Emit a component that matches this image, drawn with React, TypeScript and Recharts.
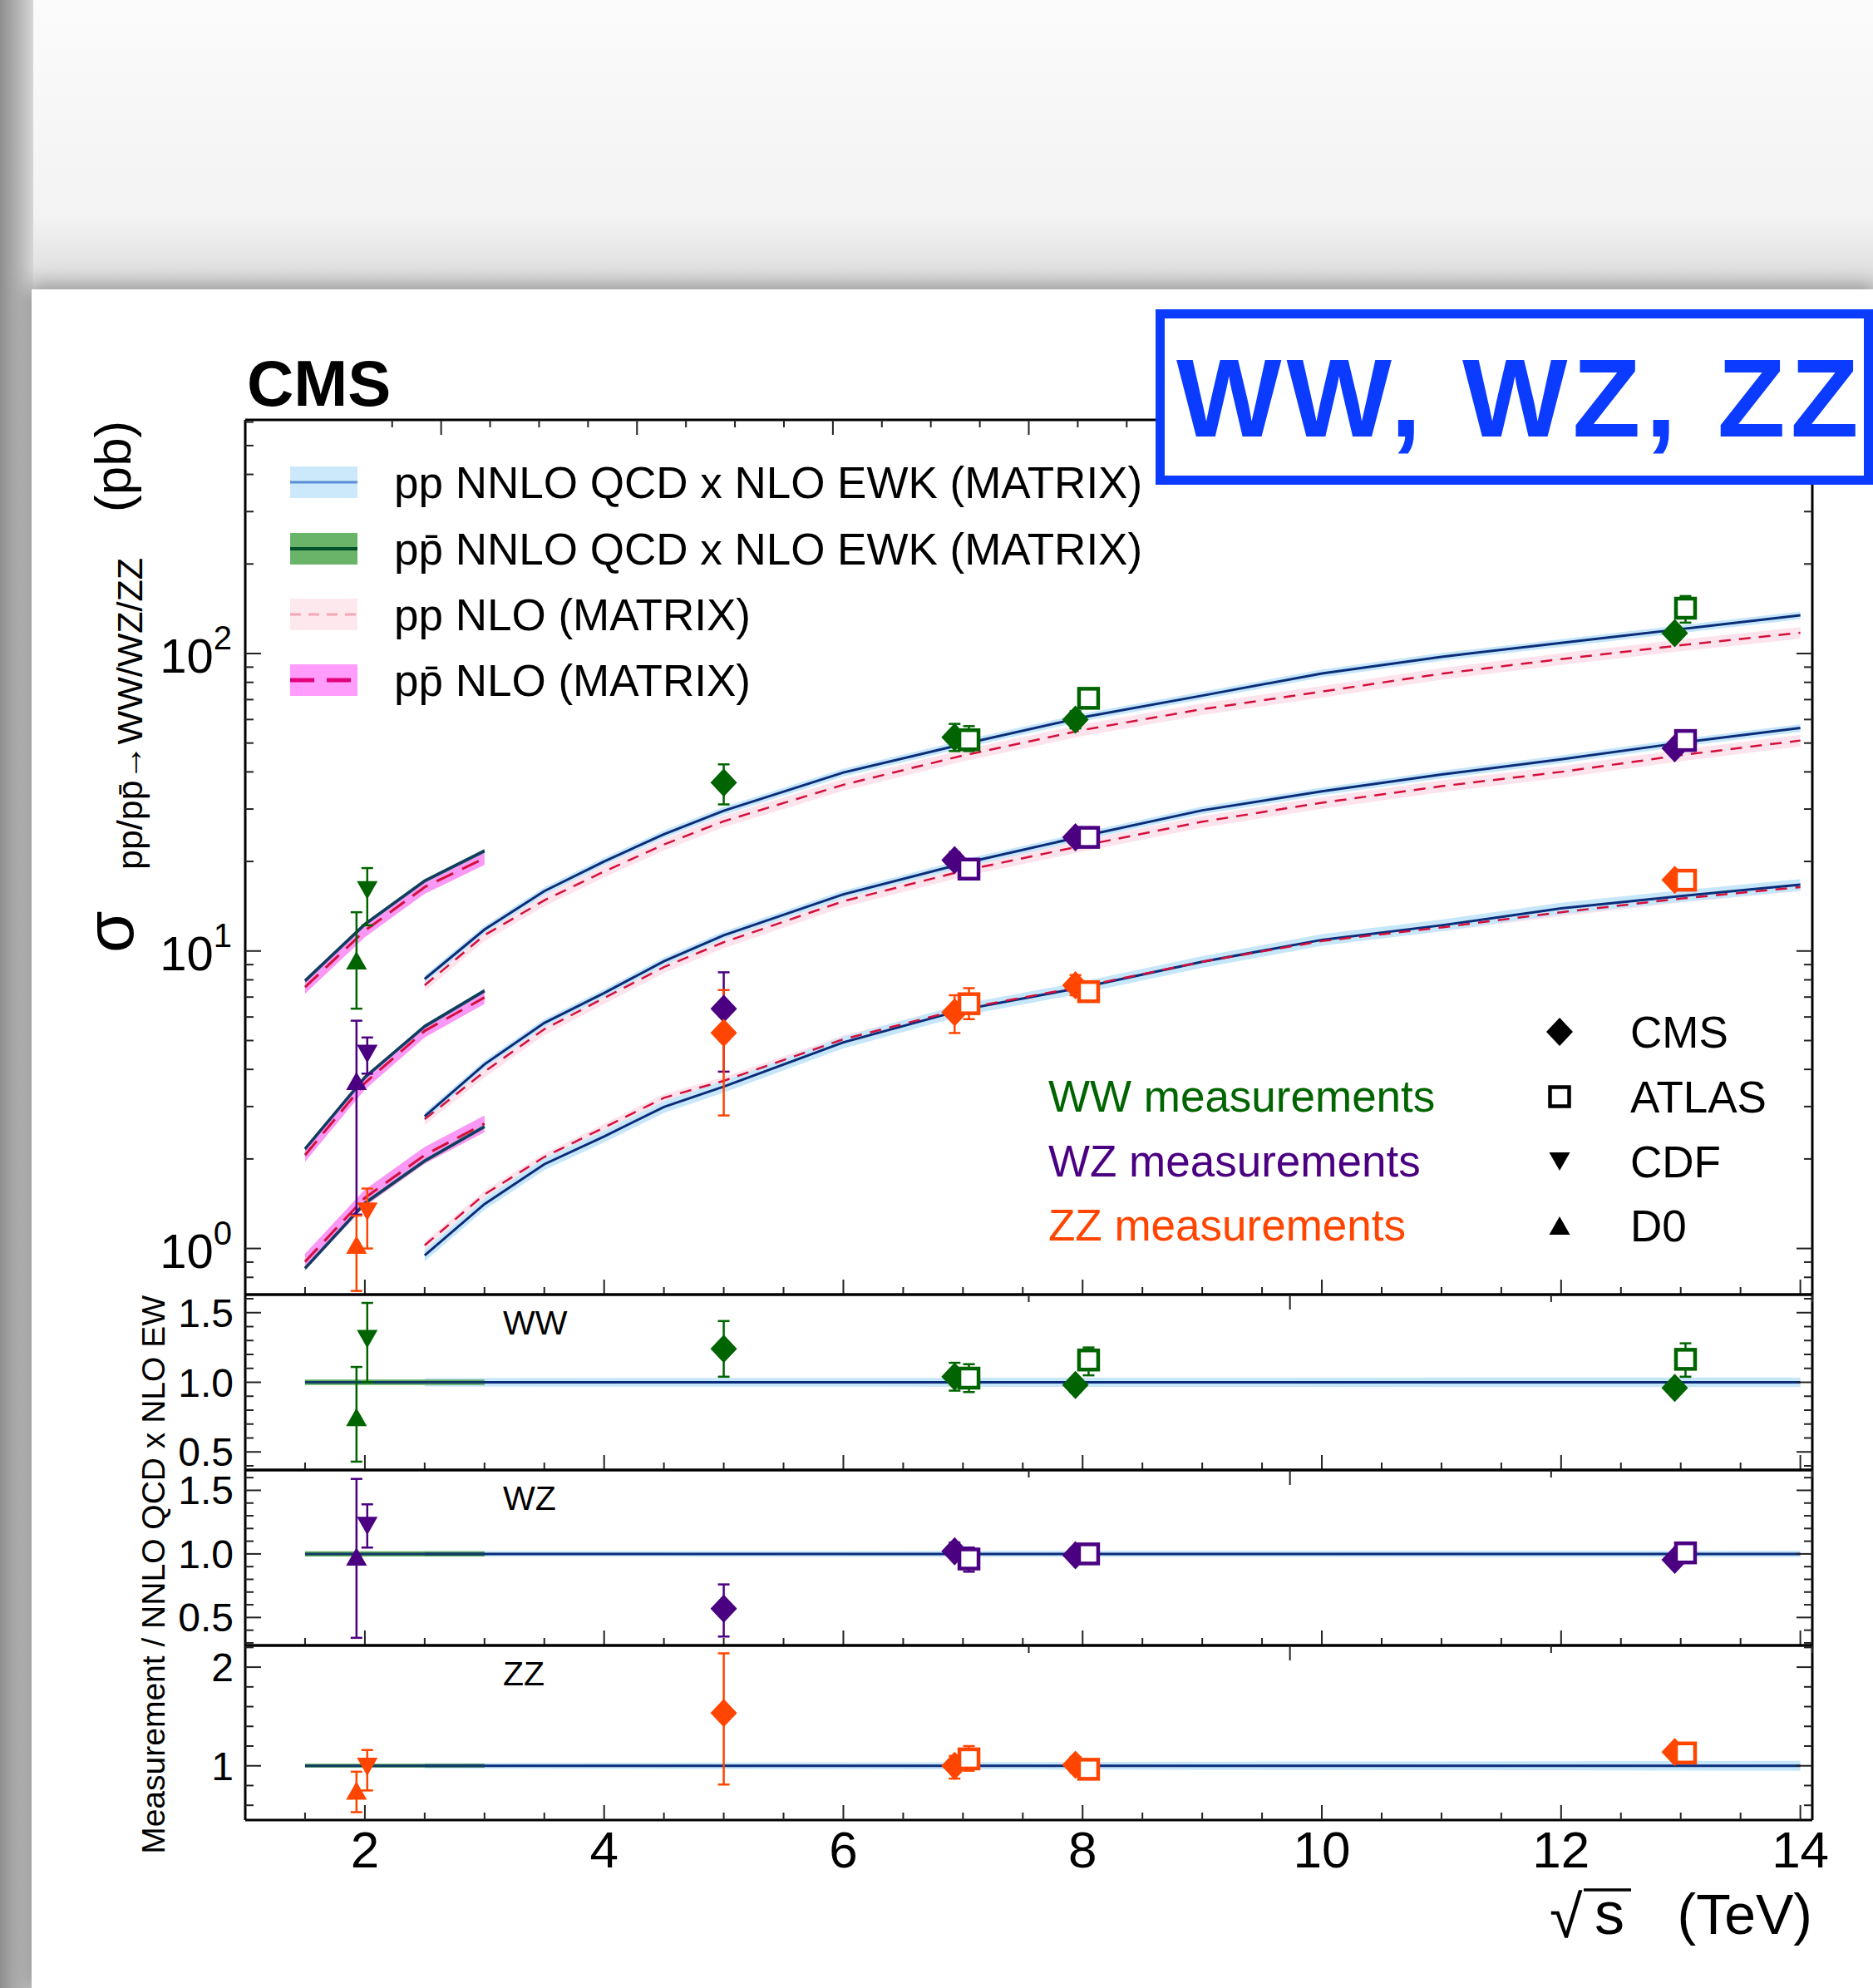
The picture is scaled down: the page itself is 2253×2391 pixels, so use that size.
import React from 'react';
import { ComposedChart, Line, Area, Scatter, XAxis, YAxis, ErrorBar } from 'recharts';

const W = 2253;
const H = 2391;
const FONT = '"Liberation Sans", Arial, Helvetica, sans-serif';

// frame of the plot, page pixels
const PLOT_LEFT = 295;
const PLOT_RIGHT = 2180;
const MAIN_TOP = 505;
const MAIN_BOTTOM = 1557;
const WW_BOTTOM = 1768;
const WZ_BOTTOM = 1979;
const ZZ_BOTTOM = 2189;

const WW_COLOR = '#006400';
const WZ_COLOR = '#4b0082';
const ZZ_COLOR = '#ff4500';
const NNLO_LINE = '#0b2c78';
const PPBAR_LINE = '#123a66';
const NLO_LINE = '#d40f3c';
const NNLO_BAND = '#c6e6fa';
const NLO_BAND = '#fde3eb';
const PPBAR_NNLO_BAND = '#5fae5f';
const PPBAR_NLO_BAND = '#fa98f6';
const BOX_BLUE = '#0b3bff';
const TICK_COLOR = '#222';

// ---- axes ----
const xDomain = [1, 14.1];
const xTicks = [1.5, 2, 2.5, 3, 3.5, 4, 4.5, 5, 5.5, 6, 6.5, 7, 7.5, 8, 8.5, 9, 9.5, 10, 10.5, 11, 11.5, 12, 12.5, 13, 13.5, 14];
const xTickLabels = [2, 4, 6, 8, 10, 12, 14];

const mainYDomain = [0.7, 610];
const mainYTicks = [0.7, 0.8, 0.9, 1, 2, 3, 4, 5, 6, 7, 8, 9, 10, 20, 30, 40, 50, 60, 70, 80, 90, 100, 200, 300, 400, 500, 600];
const mainYLabels = [1, 10, 100];
const mainYExponents = ['0', '1', '2'];

const wwRatioDomain = [0.37, 1.63];
const wwRatioTicks = [0.4, 0.5, 0.6, 0.7, 0.8, 0.9, 1, 1.1, 1.2, 1.3, 1.4, 1.5, 1.6];
const wzRatioDomain = [0.28, 1.66];
const wzRatioTicks = [0.3, 0.4, 0.5, 0.6, 0.7, 0.8, 0.9, 1, 1.1, 1.2, 1.3, 1.4, 1.5, 1.6];
const halfRatioLabels = [0.5, 1, 1.5];
const halfRatioText = ['0.5', '1.0', '1.5'];
const zzRatioDomain = [0.45, 2.22];
const zzRatioTicks = [0.6, 0.8, 1, 1.2, 1.4, 1.6, 1.8, 2, 2.2];
const zzRatioLabels = [1, 2];
const zzRatioText = ['1', '2'];

// ---- theory (MATRIX), pb ----
const ppRoots = [2.5, 3, 3.5, 4, 4.5, 5, 6, 7, 8, 9, 10, 11, 12, 13, 14];
const ppbarRoots = [1.5, 2, 2.5, 3];

const wwPpNnlo = [8.05, 11.8, 15.9, 20.0, 24.7, 29.6, 39.8, 49.6, 61.0, 72.2, 85.7, 97.5, 108.5, 120.8, 134.4];
const wzPpNnlo = [2.78, 4.16, 5.73, 7.22, 9.24, 11.3, 15.5, 19.7, 24.3, 29.7, 34.4, 39.2, 44.1, 50.1, 56.2];
const zzPpNnlo = [0.948, 1.41, 1.92, 2.38, 2.99, 3.5, 4.93, 6.35, 7.55, 9.2, 10.9, 12.2, 13.9, 15.3, 16.7];
const wwPpNlo = [7.67, 11.3, 14.8, 18.5, 22.8, 27.3, 36.2, 45.4, 55.3, 65.0, 74.5, 85.5, 95.8, 106.6, 117.4];
const wzPpNlo = [2.72, 3.93, 5.46, 6.95, 8.83, 10.7, 14.7, 18.6, 22.6, 27.2, 31.5, 35.8, 40.0, 45.5, 51.0];
const zzPpNlo = [1.025, 1.52, 2.03, 2.55, 3.21, 3.66, 5.05, 6.4, 7.6, 9.2, 10.8, 12.0, 13.5, 15.0, 16.4];

const wwPbNnlo = [7.94, 12.3, 17.2, 21.7];
const wzPbNnlo = [2.16, 3.76, 5.58, 7.35];
const zzPbNnlo = [0.858, 1.42, 1.97, 2.57];
const wwPbNlo = [7.56, 11.7, 16.4, 20.5];
const wzPbNlo = [2.06, 3.6, 5.39, 6.98];
const zzPbNlo = [0.903, 1.48, 2.06, 2.63];

// relative band half-widths: WW, WZ, ZZ
const ppNnloUnc = [0.03, 0.03, 0.045];
const ppNloUnc = [0.045, 0.045, 0.03];
const pbNnloUnc = [0.015, 0.015, 0.015];
const pbNloUnc = [0.05, 0.05, 0.065];

// ---- measurements: [value, low, high] ----
const cmsRoots = [5.0, 6.93, 7.94, 12.95];
const atlasRoots = [7.05, 8.05, 13.04];
const cdfRoots = [2.02];
const d0Roots = [1.93];

const wwCms = [[36.8, 31.1, 42.4], [52.3, 47, 58], [59.9, 56, 64], [117, 111, 123]];
const wwAtlas = [[51.3, 47, 57], [70.7, 66, 75.5], [142, 127, 156]];
const wwCdf = [[16.0, 12.2, 19.0]];
const wwD0 = [[9.3, 6.4, 13.5]];
const wzCms = [[6.4, 3.93, 8.48], [20.2, 19, 21.5], [24.1, 23, 25.3], [48.0, 46, 50]];
const wzAtlas = [[18.85, 17.6, 20.2], [24.1, 23.2, 25], [51.0, 49, 53]];
const wzCdf = [[4.51, 3.87, 5.12]];
const wzD0 = [[3.66, 1.3, 5.83]];
const zzCms = [[5.31, 2.8, 7.39], [6.22, 5.3, 7.1], [7.67, 7.1, 8.3], [17.35, 16.5, 18.2]];
const zzAtlas = [[6.65, 5.9, 7.5], [7.3, 7.0, 7.7], [17.3, 16.6, 18.0]];
const zzCdf = [[1.33, 1.0, 1.59]];
const zzD0 = [[1.03, 0.72, 1.29]];

// measurement / NNLO QCD x NLO EW
const wwCmsRatio = [[1.24, 1.04, 1.44], [1.04, 0.94, 1.14], [0.98, 0.93, 1.03], [0.96, 0.92, 1.0]];
const wwAtlasRatio = [[1.03, 0.93, 1.13], [1.16, 1.05, 1.25], [1.165, 1.04, 1.28]];
const wwCdfRatio = [[1.31, 1.0, 1.57]];
const wwD0Ratio = [[0.75, 0.43, 1.11]];
const wzCmsRatio = [[0.57, 0.35, 0.76], [1.02, 0.97, 1.09], [0.99, 0.95, 1.04], [0.954, 0.92, 0.99]];
const wzAtlasRatio = [[0.96, 0.86, 1.05], [1.0, 0.96, 1.04], [1.008, 0.97, 1.05]];
const wzCdfRatio = [[1.22, 1.05, 1.39]];
const wzD0Ratio = [[0.98, 0.34, 1.59]];
const zzCmsRatio = [[1.535, 0.81, 2.14], [1.0, 0.87, 1.1], [1.01, 0.93, 1.09], [1.14, 1.08, 1.2]];
const zzAtlasRatio = [[1.07, 0.95, 1.2], [0.965, 0.91, 1.02], [1.13, 1.07, 1.19]];
const zzCdfRatio = [[0.99, 0.75, 1.16]];
const zzD0Ratio = [[0.75, 0.53, 0.94]];

// theory band in the ratio panels
const ratioPpRoots = [2.5, 14];
const ratioPbRoots = [1.5, 3];
const ratioPpCentral = [1, 1];
const ratioPbCentral = [1, 1];
const wwRatioPpUnc = [0.03, 0.035];
const wzRatioPpUnc = [0.022, 0.025];
const zzRatioPpUnc = [0.028, 0.05];
const ratioPbUnc = [0.02, 0.02];

// legend text
const theoryLegend = ['pp NNLO QCD x NLO EWK (MATRIX)', 'pp\u0304 NNLO QCD x NLO EWK (MATRIX)', 'pp NLO (MATRIX)', 'pp\u0304 NLO (MATRIX)'];
const processLegend = ['WW measurements', 'WZ measurements', 'ZZ measurements'];
const experimentLegend = ['CMS', 'ATLAS', 'CDF', 'D0'];

// ---------------------------------------------------------------

type Row = { x: number; [k: string]: any };

function emptyRows(a: number[], b: number[]): Row[] {
  return Array.from(new Set([...a, ...b]))
    .sort((p, q) => p - q)
    .map((x) => ({ x }));
}

function put(rows: Row[], roots: number[], vals: number[], key: string, unc: number) {
  roots.forEach((x, i) => {
    const r = rows.find((q) => q.x === x)!;
    r[key] = vals[i];
    r[key + 'Band'] = [vals[i] * (1 - unc), vals[i] * (1 + unc)];
  });
}

const processes = [
  { id: 'ww', ppNnlo: wwPpNnlo, ppNlo: wwPpNlo, pbNnlo: wwPbNnlo, pbNlo: wwPbNlo },
  { id: 'wz', ppNnlo: wzPpNnlo, ppNlo: wzPpNlo, pbNnlo: wzPbNnlo, pbNlo: wzPbNlo },
  { id: 'zz', ppNnlo: zzPpNnlo, ppNlo: zzPpNlo, pbNnlo: zzPbNnlo, pbNlo: zzPbNlo },
];

const theoryRows: Row[] = (() => {
  const rows = emptyRows(ppbarRoots, ppRoots);
  processes.forEach((p, i) => {
    put(rows, ppRoots, p.ppNnlo, p.id + 'PpNnlo', ppNnloUnc[i]);
    put(rows, ppRoots, p.ppNlo, p.id + 'PpNlo', ppNloUnc[i]);
    put(rows, ppbarRoots, p.pbNnlo, p.id + 'PbNnlo', pbNnloUnc[i]);
    put(rows, ppbarRoots, p.pbNlo, p.id + 'PbNlo', pbNloUnc[i]);
  });
  return rows;
})();

function ratioRows(ppUnc: number[]): Row[] {
  const rows = emptyRows(ratioPbRoots, ratioPpRoots);
  ratioPpRoots.forEach((x, i) => {
    const r = rows.find((q) => q.x === x)!;
    r.pp = ratioPpCentral[i];
    r.ppBand = [ratioPpCentral[i] - ppUnc[i], ratioPpCentral[i] + ppUnc[i]];
  });
  ratioPbRoots.forEach((x, i) => {
    const r = rows.find((q) => q.x === x)!;
    r.pb = ratioPbCentral[i];
    r.pbBand = [ratioPbCentral[i] - ratioPbUnc[i], ratioPbCentral[i] + ratioPbUnc[i]];
  });
  return rows;
}

const toPoints = (xs: number[], vals: number[][]) =>
  xs.map((x, i) => ({ x, y: vals[i][0], err: [vals[i][0] - vals[i][1], vals[i][2] - vals[i][0]] }));

// ---- marker shapes ----
const diamond = (c: string) => (p: any) => (
  <polygon points={`${p.cx},${p.cy - 17} ${p.cx + 16},${p.cy} ${p.cx},${p.cy + 17} ${p.cx - 16},${p.cy}`} fill={c} />
);
const openSquare = (c: string) => (p: any) => (
  <rect x={p.cx - 11.5} y={p.cy - 11.5} width={23} height={23} fill="#fff" stroke={c} strokeWidth={4.5} />
);
const downTri = (c: string) => (p: any) => (
  <polygon points={`${p.cx - 12.5},${p.cy - 11} ${p.cx + 12.5},${p.cy - 11} ${p.cx},${p.cy + 11}`} fill={c} />
);
const upTri = (c: string) => (p: any) => (
  <polygon points={`${p.cx - 12.5},${p.cy + 11} ${p.cx + 12.5},${p.cy + 11} ${p.cx},${p.cy - 11}`} fill={c} />
);

function scatters(color: string, key: string, cms: number[][], atlas: number[][], cdf: number[][], d0: number[][]) {
  const sets = [
    { roots: cmsRoots, vals: cms, shape: diamond },
    { roots: atlasRoots, vals: atlas, shape: openSquare },
    { roots: cdfRoots, vals: cdf, shape: downTri },
    { roots: d0Roots, vals: d0, shape: upTri },
  ];
  return sets.map((s, k) => (
    <Scatter key={key + k} data={toPoints(s.roots, s.vals)} dataKey="y" shape={s.shape(color)} isAnimationActive={false}>
      <ErrorBar dataKey="err" direction="y" width={7} stroke={color} strokeWidth={2.5} />
    </Scatter>
  ));
}

// ---- ticks (ROOT style, drawn inward) ----
const xTick = (side: 'top' | 'bottom', withLabels: boolean) => (p: any) => {
  const v = p.payload.value;
  const i = xTickLabels.indexOf(v);
  const len = i >= 0 ? 18 : 9;
  const dir = side === 'bottom' ? -1 : 1;
  return (
    <g>
      <line x1={p.x} y1={p.y} x2={p.x} y2={p.y + dir * len} stroke={TICK_COLOR} strokeWidth={2} />
      {withLabels && i >= 0 ? (
        <text x={p.x} y={p.y + 57} textAnchor="middle" fontFamily={FONT} fontSize={62} fill="#000">
          {xTickLabels[i]}
        </text>
      ) : null}
    </g>
  );
};

const mainLeftTick = (p: any) => {
  const v = p.payload.value;
  const i = mainYLabels.indexOf(v);
  return (
    <g>
      <line x1={p.x} y1={p.y} x2={p.x + (i >= 0 ? 19 : 10)} y2={p.y} stroke={TICK_COLOR} strokeWidth={2} />
      {i >= 0 ? (
        <text x={p.x - 16} y={p.y + 23} textAnchor="end" fontFamily={FONT} fontSize={58} fill="#000">
          10
          <tspan dy={-28} fontSize={40}>
            {mainYExponents[i]}
          </tspan>
        </text>
      ) : null}
    </g>
  );
};

const ratioLeftTick = (majors: number[], text: string[]) => (p: any) => {
  const i = majors.indexOf(p.payload.value);
  return (
    <g>
      <line x1={p.x} y1={p.y} x2={p.x + (i >= 0 ? 19 : 10)} y2={p.y} stroke={TICK_COLOR} strokeWidth={2} />
      {i >= 0 ? (
        <text x={p.x - 14} y={p.y + 17} textAnchor="end" fontFamily={FONT} fontSize={48} fill="#000">
          {text[i]}
        </text>
      ) : null}
    </g>
  );
};

const rightTick = (majors: number[]) => (p: any) => {
  const major = majors.includes(p.payload.value);
  return <line x1={p.x} y1={p.y} x2={p.x - (major ? 19 : 10)} y2={p.y} stroke={TICK_COLOR} strokeWidth={2} />;
};

const AXIS_LINE = { stroke: '#000', strokeWidth: 3 };

// axes are 1px thick so that recharts still draws them
function frameAxes(opts: {
  yDomain: number[];
  yTicks: number[];
  log?: boolean;
  leftTick: (p: any) => React.ReactNode;
  majors: number[];
  xLabels: boolean;
}) {
  const common = { tickSize: 0, tickMargin: 0, tickLine: false, axisLine: AXIS_LINE, interval: 0 as const, allowDataOverflow: true };
  return [
    <XAxis key="xb" dataKey="x" type="number" domain={xDomain} ticks={xTicks} height={1} tick={xTick('bottom', opts.xLabels)} {...common} />,
    <XAxis key="xt" xAxisId="top" orientation="top" type="number" domain={xDomain} ticks={xTicks} height={1} tick={xTick('top', false)} {...common} />,
    <YAxis
      key="yl"
      type="number"
      scale={opts.log ? 'log' : 'linear'}
      domain={opts.yDomain}
      ticks={opts.yTicks}
      width={PLOT_LEFT}
      tick={opts.leftTick}
      {...common}
    />,
    <YAxis
      key="yr"
      yAxisId="right"
      orientation="right"
      type="number"
      scale={opts.log ? 'log' : 'linear'}
      domain={opts.yDomain}
      ticks={opts.yTicks}
      width={1}
      tick={rightTick(opts.majors)}
      {...common}
    />,
  ];
}

const panelMargin = (top: number, bottom: number) => ({ top: top - 1, right: W - PLOT_RIGHT - 1, bottom: H - bottom - 1, left: 0 });

const abs: React.CSSProperties = { position: 'absolute', left: 0, top: 0 };

function MainPanel() {
  const band = (key: string, fill: string) =>
    processes.map((p) => (
      <Area
        key={p.id + key}
        dataKey={p.id + key}
        type="linear"
        stroke="none"
        fill={fill}
        fillOpacity={1}
        dot={false}
        activeDot={false}
        isAnimationActive={false}
      />
    ));
  const line = (key: string, stroke: string, width: number, dash?: string) =>
    processes.map((p) => (
      <Line
        key={p.id + key}
        dataKey={p.id + key}
        type="linear"
        stroke={stroke}
        strokeWidth={width}
        strokeDasharray={dash}
        dot={false}
        activeDot={false}
        isAnimationActive={false}
      />
    ));
  return (
    <div style={abs}>
      <ComposedChart width={W} height={H} data={theoryRows} margin={panelMargin(MAIN_TOP, MAIN_BOTTOM)}>
        {frameAxes({ yDomain: mainYDomain, yTicks: mainYTicks, log: true, leftTick: mainLeftTick, majors: mainYLabels, xLabels: false })}
        {band('PpNloBand', NLO_BAND)}
        {band('PpNnloBand', NNLO_BAND)}
        {band('PbNloBand', PPBAR_NLO_BAND)}
        {band('PbNnloBand', PPBAR_NNLO_BAND)}
        {line('PpNnlo', NNLO_LINE, 3)}
        {line('PbNnlo', PPBAR_LINE, 3.5)}
        {line('PpNlo', NLO_LINE, 2.5, '14 10')}
        {line('PbNlo', NLO_LINE, 3, '22 12')}
        {scatters(WW_COLOR, 'ww', wwCms, wwAtlas, wwCdf, wwD0)}
        {scatters(WZ_COLOR, 'wz', wzCms, wzAtlas, wzCdf, wzD0)}
        {scatters(ZZ_COLOR, 'zz', zzCms, zzAtlas, zzCdf, zzD0)}
      </ComposedChart>
    </div>
  );
}

function RatioPanel(props: {
  top: number;
  bottom: number;
  domain: number[];
  ticks: number[];
  majors: number[];
  text: string[];
  unc: number[];
  color: string;
  id: string;
  cms: number[][];
  atlas: number[][];
  cdf: number[][];
  d0: number[][];
  xLabels: boolean;
}) {
  return (
    <div style={abs}>
      <ComposedChart width={W} height={H} data={ratioRows(props.unc)} margin={panelMargin(props.top, props.bottom)}>
        {frameAxes({
          yDomain: props.domain,
          yTicks: props.ticks,
          leftTick: ratioLeftTick(props.majors, props.text),
          majors: props.majors,
          xLabels: props.xLabels,
        })}
        <Area dataKey="ppBand" type="linear" connectNulls stroke="none" fill={NNLO_BAND} fillOpacity={1} dot={false} activeDot={false} isAnimationActive={false} />
        <Area dataKey="pbBand" type="linear" connectNulls stroke="none" fill={PPBAR_NNLO_BAND} fillOpacity={1} dot={false} activeDot={false} isAnimationActive={false} />
        <Line dataKey="pp" type="linear" connectNulls stroke={NNLO_LINE} strokeWidth={3} dot={false} activeDot={false} isAnimationActive={false} />
        <Line dataKey="pb" type="linear" connectNulls stroke={PPBAR_LINE} strokeWidth={3} dot={false} activeDot={false} isAnimationActive={false} />
        {scatters(props.color, props.id, props.cms, props.atlas, props.cdf, props.d0)}
      </ComposedChart>
    </div>
  );
}

function Overlay() {
  const legendY = [580, 660, 739, 818];
  const swatches = [
    { fill: '#cbe9fb', stroke: '#5b8ed6', width: 3, dash: undefined },
    { fill: '#6ab46a', stroke: '#00502a', width: 4, dash: undefined },
    { fill: '#fde8ee', stroke: '#f4a6b4', width: 3, dash: '13 9' },
    { fill: '#ff9cfc', stroke: '#e2007a', width: 5, dash: '29 15' },
  ];
  const procY = [1337, 1415, 1492];
  const procColor = [WW_COLOR, WZ_COLOR, ZZ_COLOR];
  const expY = [1241, 1319, 1397, 1474];
  const expShape = [diamond('#000'), openSquare('#000'), downTri('#000'), upTri('#000')];
  return (
    <svg width={W} height={H} style={abs} fontFamily={FONT}>
      <text x={297} y={488} fontSize={78} fontWeight="bold" fill="#000">
        CMS
      </text>

      {theoryLegend.map((t, i) => (
        <g key={t}>
          <rect x={349} y={legendY[i] - 19} width={81} height={38} fill={swatches[i].fill} />
          <line
            x1={349}
            x2={430}
            y1={legendY[i]}
            y2={legendY[i]}
            stroke={swatches[i].stroke}
            strokeWidth={swatches[i].width}
            strokeDasharray={swatches[i].dash}
          />
          <text x={474} y={legendY[i] + 19} fontSize={53} fill="#000">
            {t}
          </text>
        </g>
      ))}

      {processLegend.map((t, i) => (
        <text key={t} x={1261} y={procY[i]} fontSize={53} fill={procColor[i]}>
          {t}
        </text>
      ))}
      {experimentLegend.map((t, i) => (
        <g key={t}>
          {expShape[i]({ cx: 1876, cy: expY[i] })}
          <text x={1961} y={expY[i] + 19} fontSize={53} fill="#000">
            {t}
          </text>
        </g>
      ))}

      <text x={605} y={1605} fontSize={41} fill="#000">WW</text>
      <text x={605} y={1816} fontSize={41} fill="#000">WZ</text>
      <text x={605} y={2027} fontSize={41} fill="#000">ZZ</text>

      {/* y titles: local x runs upward from y=1146, local y=0 is the baseline at x=160 */}
      <text transform="translate(160, 1146) rotate(-90)" fill="#000">
        <tspan x={0} y={0} fontSize={82}>
          σ
        </tspan>
        <tspan x={100} y={11} fontSize={43}>
          pp/pp&#772;→WW/WZ/ZZ
        </tspan>
        <tspan x={530} y={-3} fontSize={62}>
          (pb)
        </tspan>
      </text>
      <text transform="translate(198, 1558) rotate(-90)" textAnchor="end" fontSize={39} fill="#000">
        Measurement / NNLO QCD x NLO EW
      </text>

      {/* x title */}
      <text x={1864} y={2330} fontSize={72} fill="#000">
        √
      </text>
      <line x1={1905} x2={1962} y1={2273} y2={2273} stroke="#000" strokeWidth={3.5} />
      <text x={1918} y={2326} fontSize={72} fill="#000">
        s
      </text>
      <text x={2180} y={2326} textAnchor="end" fontSize={68} fill="#000">
        (TeV)
      </text>

      {/* tag box */}
      <rect x={1395.5} y={377.5} width={852} height={200} fill="#fff" stroke={BOX_BLUE} strokeWidth={11} />
      <text x={1415} y={525} fontSize={134} fontWeight="bold" fill={BOX_BLUE} letterSpacing={6}>
        WW, WZ, ZZ
      </text>
    </svg>
  );
}

export default function App() {
  return (
    <div style={{ position: 'absolute', left: 0, top: 0, width: W, height: H, overflow: 'hidden', background: '#f7f7f7', fontFamily: FONT }}>
      <div style={{ ...abs, width: W, height: 348, background: 'linear-gradient(to bottom, #fbfbfb 0%, #f3f3f3 75%, #dadada 100%)' }} />
      <div style={{ ...abs, width: 40, height: H, background: 'linear-gradient(to right, #8e8e8e 0%, #b8b8b8 60%, #d6d6d6 100%)' }} />
      <div
        style={{
          position: 'absolute',
          left: 38,
          top: 348,
          width: W - 38,
          height: H - 348,
          background: '#fff',
          boxShadow: '0 0 24px 4px rgba(0,0,0,0.35)',
        }}
      />
      <MainPanel />
      <RatioPanel
        top={MAIN_BOTTOM}
        bottom={WW_BOTTOM}
        domain={wwRatioDomain}
        ticks={wwRatioTicks}
        majors={halfRatioLabels}
        text={halfRatioText}
        unc={wwRatioPpUnc}
        color={WW_COLOR}
        id="rww"
        cms={wwCmsRatio}
        atlas={wwAtlasRatio}
        cdf={wwCdfRatio}
        d0={wwD0Ratio}
        xLabels={false}
      />
      <RatioPanel
        top={WW_BOTTOM}
        bottom={WZ_BOTTOM}
        domain={wzRatioDomain}
        ticks={wzRatioTicks}
        majors={halfRatioLabels}
        text={halfRatioText}
        unc={wzRatioPpUnc}
        color={WZ_COLOR}
        id="rwz"
        cms={wzCmsRatio}
        atlas={wzAtlasRatio}
        cdf={wzCdfRatio}
        d0={wzD0Ratio}
        xLabels={false}
      />
      <RatioPanel
        top={WZ_BOTTOM}
        bottom={ZZ_BOTTOM}
        domain={zzRatioDomain}
        ticks={zzRatioTicks}
        majors={zzRatioLabels}
        text={zzRatioText}
        unc={zzRatioPpUnc}
        color={ZZ_COLOR}
        id="rzz"
        cms={zzCmsRatio}
        atlas={zzAtlasRatio}
        cdf={zzCdfRatio}
        d0={zzD0Ratio}
        xLabels={true}
      />
      <Overlay />
    </div>
  );
}
